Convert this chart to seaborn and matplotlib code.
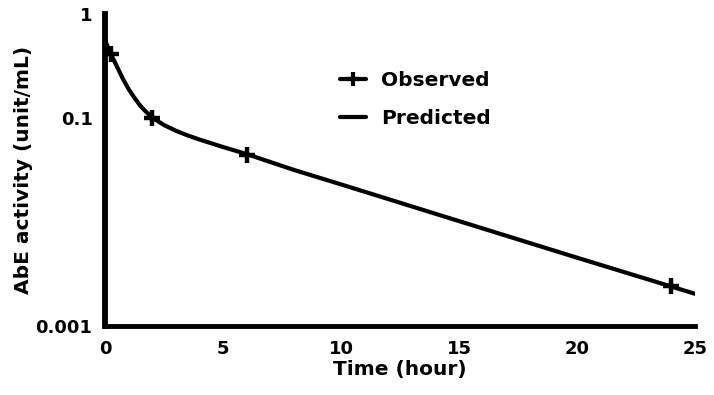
import matplotlib
matplotlib.use("Agg")
import matplotlib.pyplot as plt
from matplotlib.lines import Line2D
import seaborn as sns
import pandas as pd

obs_time = [0.25, 2, 6, 24]
obs_activity = [0.41, 0.1, 0.044, 0.0024]

# Predicted curve
pred_time = [0, 0.25, 0.5, 0.75, 1, 1.25, 1.5, 1.75, 2, 2.5, 3, 3.5, 4, 5, 6,
             8, 10, 15, 20, 25]
pred_activity = [0.56, 0.41, 0.315, 0.24, 0.19, 0.156, 0.131, 0.114, 0.101,
                 0.0855, 0.0755, 0.068, 0.0621, 0.0526, 0.045, 0.0317, 0.023,
                 0.0102, 0.00454, 0.00204]

x_ticks = [0, 5, 10, 15, 20, 25]
y_ticks = [1, 0.1, 0.001]
y_tick_labels = ["1", "0.1", "0.001"]

x_label = "Time (hour)"
y_label = "AbE activity (unit/mL)"
legend_labels = ["Observed", "Predicted"]

sns.set_theme(style="white")
plt.rcParams["font.family"] = ["DejaVu Sans"]
plt.rcParams["font.weight"] = "bold"
plt.rcParams["text.color"] = "black"

obs_df = pd.DataFrame({"time": obs_time, "activity": obs_activity})
pred_df = pd.DataFrame({"time": pred_time, "activity": pred_activity})

fig = plt.figure(figsize=(7.14, 3.95), dpi=100)
ax = fig.add_axes([105 / 714, 1 - 326 / 395, 590 / 714, 312 / 395])

sns.lineplot(data=pred_df, x="time", y="activity", ax=ax, color="black",
             linewidth=3, legend=False, solid_joinstyle="round")
ax.plot(obs_df["time"], obs_df["activity"], linestyle="none", marker="+",
        markersize=11, markeredgewidth=3.2, color="black")

ax.set_yscale("log")
ax.set_xlim(0, 25)
ax.set_ylim(0.001, 1)
ax.set_xticks(x_ticks)
ax.set_xticklabels([str(t) for t in x_ticks])
ax.set_yticks(y_ticks)
ax.set_yticklabels(y_tick_labels)
ax.yaxis.set_minor_locator(matplotlib.ticker.NullLocator())

for s in ["top", "right"]:
    ax.spines[s].set_visible(False)
ax.spines["left"].set_linewidth(4.2)
ax.spines["bottom"].set_linewidth(3.5)
ax.spines["left"].set_color("black")
ax.spines["bottom"].set_color("black")
ax.spines["left"].set_capstyle("projecting")
ax.spines["bottom"].set_capstyle("projecting")

ax.tick_params(axis="both", which="major", length=0, labelsize=13,
               labelcolor="black")
ax.tick_params(axis="y", pad=9)
ax.tick_params(axis="x", pad=10)
for lab in ax.get_xticklabels() + ax.get_yticklabels():
    lab.set_fontweight("bold")

ax.set_xlabel(x_label, fontsize=14.5, fontweight="bold", color="black")
ax.set_ylabel(y_label, fontsize=14.5, fontweight="bold", color="black")
ax.xaxis.set_label_coords(0.5, -0.108)
ax.yaxis.set_label_coords(-0.122, 0.5)

handles = [
    Line2D([], [], color="black", linewidth=3, marker="+", markersize=10,
           markeredgewidth=3),
    Line2D([], [], color="black", linewidth=3),
]
leg = ax.legend(handles, legend_labels, loc="upper left",
                bbox_to_anchor=(0.398, 0.818), frameon=False,
                prop={"size": 14.5, "weight": "bold"}, handlelength=1.3,
                handletextpad=0.75, labelspacing=0.95, borderpad=0,
                borderaxespad=0)
for t in leg.get_texts():
    t.set_color("black")

fig.savefig("out.png", dpi=100)
